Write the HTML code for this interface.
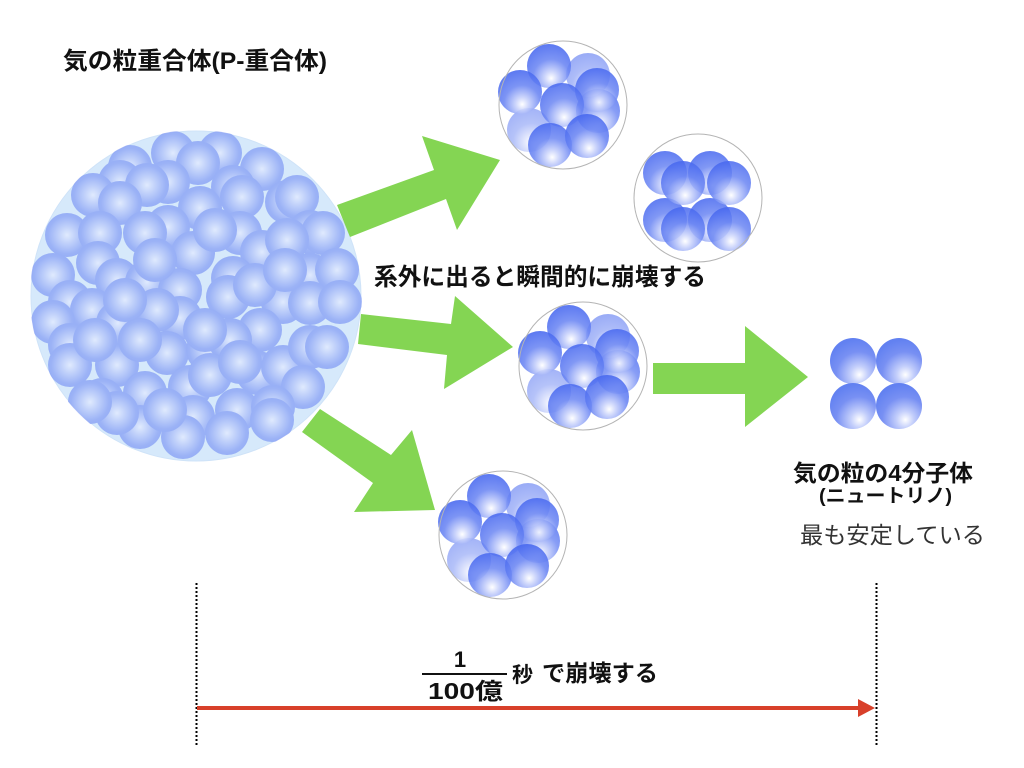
<!DOCTYPE html>
<html><head><meta charset="utf-8">
<style>
html,body{margin:0;padding:0;background:#fff;}
svg{display:block;}
text{font-family:"Liberation Sans","Noto Sans CJK JP",sans-serif;}
</style></head>
<body>
<svg width="1024" height="768" viewBox="0 0 1024 768" xmlns="http://www.w3.org/2000/svg">
<defs>
<radialGradient id="gb" cx="0.5" cy="0.5" r="0.5">
<stop offset="0" stop-color="#e4ebff"/>
<stop offset="0.45" stop-color="#aebff9"/>
<stop offset="0.85" stop-color="#8099f4"/>
<stop offset="1" stop-color="#7a94f3"/>
</radialGradient>
<radialGradient id="gs" cx="0.55" cy="0.74" r="0.75" fx="0.55" fy="0.78">
<stop offset="0" stop-color="#ffffff"/>
<stop offset="0.2" stop-color="#c6d0fb"/>
<stop offset="0.55" stop-color="#6b86f3"/>
<stop offset="1" stop-color="#4566ef"/>
</radialGradient>
<radialGradient id="gq" cx="0.62" cy="0.78" r="0.75" fx="0.64" fy="0.8">
<stop offset="0" stop-color="#ffffff"/>
<stop offset="0.25" stop-color="#c3cefb"/>
<stop offset="0.65" stop-color="#7890f3"/>
<stop offset="1" stop-color="#6281f1"/>
</radialGradient>
<clipPath id="bigclip"><circle cx="196" cy="296" r="166"/></clipPath>
<g id="clusterA">
<circle cx="598" cy="111" r="22" fill="url(#gs)" opacity="0.8"/>
<circle cx="588" cy="75" r="22" fill="url(#gs)" opacity="0.55"/>
<circle cx="529" cy="130" r="22" fill="url(#gs)" opacity="0.5"/>
<circle cx="549" cy="66" r="22" fill="url(#gs)" opacity="0.88"/>
<circle cx="520" cy="92" r="22" fill="url(#gs)" opacity="0.88"/>
<circle cx="597" cy="90" r="22" fill="url(#gs)" opacity="0.85"/>
<circle cx="562" cy="105" r="22" fill="url(#gs)" opacity="0.85"/>
<circle cx="550" cy="145" r="22" fill="url(#gs)" opacity="0.85"/>
<circle cx="587" cy="136" r="22" fill="url(#gs)" opacity="0.88"/>
<circle cx="563" cy="105" r="64" fill="none" stroke="#b4b4b4" stroke-width="1"/>
</g>
</defs>

<!-- big sphere -->
<circle cx="196" cy="296" r="165" fill="#d6e9fb" stroke="#cfe3f8" stroke-width="1"/>
<g clip-path="url(#bigclip)" fill="url(#gb)" opacity="0.68">
<circle cx="173" cy="153" r="22"/><circle cx="220" cy="153" r="22"/><circle cx="262" cy="169" r="22"/>
<circle cx="130" cy="167" r="22"/><circle cx="198" cy="163" r="22"/><circle cx="168" cy="182" r="22"/>
<circle cx="120" cy="182" r="22"/><circle cx="147" cy="185" r="22"/><circle cx="233" cy="187" r="22"/>
<circle cx="242" cy="197" r="22"/><circle cx="93" cy="195" r="22"/><circle cx="287" cy="202" r="22"/>
<circle cx="297" cy="197" r="22"/><circle cx="120" cy="203" r="22"/><circle cx="200" cy="208" r="22"/>
<circle cx="168" cy="227" r="22"/><circle cx="145" cy="233" r="22"/><circle cx="310" cy="232" r="22"/>
<circle cx="323" cy="233" r="22"/><circle cx="67" cy="235" r="22"/><circle cx="100" cy="233" r="22"/>
<circle cx="240" cy="233" r="22"/><circle cx="262" cy="252" r="22"/><circle cx="193" cy="253" r="22"/>
<circle cx="287" cy="240" r="22"/><circle cx="53" cy="275" r="22"/><circle cx="98" cy="263" r="22"/>
<circle cx="117" cy="280" r="22"/><circle cx="147" cy="282" r="22"/><circle cx="233" cy="278" r="22"/>
<circle cx="310" cy="275" r="22"/><circle cx="337" cy="270" r="22"/><circle cx="70" cy="302" r="22"/>
<circle cx="92" cy="310" r="22"/><circle cx="180" cy="290" r="22"/><circle cx="228" cy="297" r="22"/>
<circle cx="283" cy="302" r="22"/><circle cx="310" cy="303" r="22"/><circle cx="340" cy="302" r="22"/>
<circle cx="118" cy="323" r="22"/><circle cx="180" cy="318" r="22"/><circle cx="157" cy="310" r="22"/>
<circle cx="260" cy="330" r="22"/><circle cx="53" cy="322" r="22"/><circle cx="70" cy="345" r="22"/>
<circle cx="70" cy="365" r="22"/><circle cx="117" cy="365" r="22"/><circle cx="167" cy="353" r="22"/>
<circle cx="208" cy="350" r="22"/><circle cx="230" cy="340" r="22"/><circle cx="258" cy="373" r="22"/>
<circle cx="283" cy="367" r="22"/><circle cx="310" cy="347" r="22"/><circle cx="327" cy="347" r="22"/>
<circle cx="303" cy="387" r="22"/><circle cx="102" cy="400" r="22"/><circle cx="145" cy="393" r="22"/>
<circle cx="190" cy="387" r="22"/><circle cx="193" cy="417" r="22"/><circle cx="237" cy="410" r="22"/>
<circle cx="273" cy="407" r="22"/><circle cx="140" cy="427" r="22"/><circle cx="183" cy="437" r="22"/>
<circle cx="227" cy="433" r="22"/><circle cx="272" cy="420" r="22"/><circle cx="117" cy="413" r="22"/>
<circle cx="90" cy="402" r="22"/><circle cx="210" cy="375" r="22"/><circle cx="140" cy="340" r="22"/>
<circle cx="205" cy="330" r="22"/><circle cx="255" cy="285" r="22"/><circle cx="215" cy="230" r="22"/>
<circle cx="155" cy="260" r="22"/><circle cx="125" cy="300" r="22"/><circle cx="285" cy="270" r="22"/>
<circle cx="240" cy="362" r="22"/><circle cx="95" cy="340" r="22"/><circle cx="165" cy="410" r="22"/>
</g>

<!-- green arrows -->
<g fill="#84d553">
<polygon points="337,205 434,170 422,136 500,160 457,230 446,199 350,237"/>
<polygon points="361,314 451,324 455,296 513,347 444,389 447,355 358,344"/>
<polygon points="320,409 391,455 412,430 435,510 354,512 373,483 302,432"/>
<polygon points="653,363 745,363 745,326 808,377 745,427 745,394 653,394"/>
</g>

<!-- clusters -->
<use href="#clusterA"/>
<use href="#clusterA" transform="translate(20,261)"/>
<use href="#clusterA" transform="translate(-60,430)"/>

<g>
<circle cx="665" cy="173" r="22" fill="url(#gs)" opacity="0.85"/>
<circle cx="710" cy="173" r="22" fill="url(#gs)" opacity="0.85"/>
<circle cx="665" cy="220" r="22" fill="url(#gs)" opacity="0.85"/>
<circle cx="710" cy="220" r="22" fill="url(#gs)" opacity="0.85"/>
<circle cx="683" cy="183" r="22" fill="url(#gs)" opacity="0.85"/>
<circle cx="729" cy="183" r="22" fill="url(#gs)" opacity="0.85"/>
<circle cx="683" cy="229" r="22" fill="url(#gs)" opacity="0.85"/>
<circle cx="729" cy="229" r="22" fill="url(#gs)" opacity="0.85"/>
<circle cx="698" cy="198" r="64" fill="none" stroke="#b4b4b4" stroke-width="1"/>
</g>

<!-- 4 molecule -->
<circle cx="853" cy="361" r="23" fill="url(#gq)"/>
<circle cx="899" cy="361" r="23" fill="url(#gq)"/>
<circle cx="853" cy="406" r="23" fill="url(#gq)"/>
<circle cx="899" cy="406" r="23" fill="url(#gq)"/>

<!-- texts -->
<text x="63" y="69" font-size="24" font-weight="700" fill="#111" textLength="264" lengthAdjust="spacingAndGlyphs">気の粒重合体(P-重合体)</text>
<text x="374" y="285" font-size="24" font-weight="700" fill="#111" textLength="332" lengthAdjust="spacingAndGlyphs">系外に出ると瞬間的に崩壊する</text>
<text x="793" y="481" font-size="23" font-weight="700" fill="#111" textLength="180" lengthAdjust="spacingAndGlyphs">気の粒の4分子体</text>
<text x="819" y="502" font-size="19" font-weight="700" fill="#111" textLength="133" lengthAdjust="spacingAndGlyphs">(ニュートリノ)</text>
<text x="800" y="543" font-size="23" font-weight="400" fill="#333" textLength="185" lengthAdjust="spacingAndGlyphs">最も安定している</text>

<!-- fraction -->
<text x="460" y="667" font-size="22" font-weight="700" fill="#111" text-anchor="middle">1</text>
<rect x="422" y="673" width="85" height="2" fill="#111"/>
<text x="428" y="699" font-size="23" font-weight="700" fill="#111" textLength="75" lengthAdjust="spacingAndGlyphs">100億</text>
<text x="512" y="682" font-size="21" font-weight="700" fill="#111">秒</text>
<text x="542" y="681" font-size="23" font-weight="700" fill="#111" textLength="116" lengthAdjust="spacingAndGlyphs">で崩壊する</text>

<!-- dotted lines -->
<line x1="196.5" y1="583" x2="196.5" y2="745" stroke="#000" stroke-width="2" stroke-dasharray="2 2"/>
<line x1="876.5" y1="583" x2="876.5" y2="745" stroke="#000" stroke-width="2" stroke-dasharray="2 2"/>

<!-- red arrow -->
<rect x="197" y="706" width="663" height="4" fill="#d8402a"/>
<polygon points="858,699 875,708 858,717" fill="#d8402a"/>
</svg>
</body></html>
